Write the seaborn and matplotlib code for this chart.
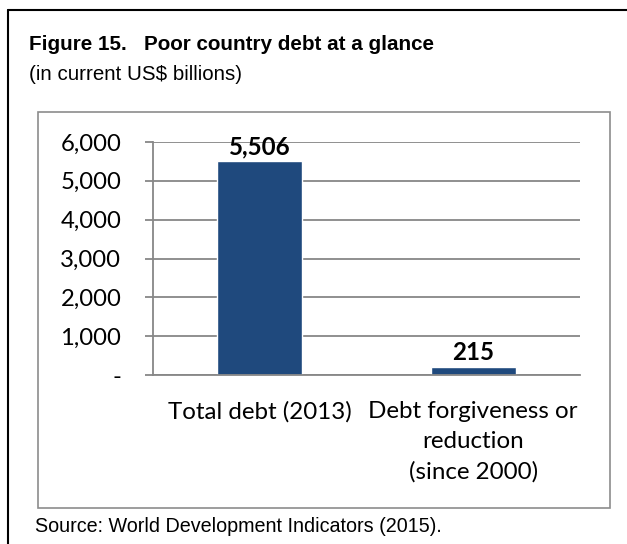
import matplotlib
matplotlib.use("Agg")
from matplotlib import pyplot as plt
from matplotlib.lines import Line2D
from matplotlib.patches import Rectangle
import seaborn as sns

categories = ["Total debt (2013)", "Debt forgiveness or\nreduction\n(since 2000)"]
values = [5506, 215]
value_labels = ["5,506", "215"]
y_ticks = [0, 1000, 2000, 3000, 4000, 5000, 6000]
y_tick_labels = ["-", "1,000", "2,000", "3,000", "4,000", "5,000", "6,000"]

title = "Figure 15.   Poor country debt at a glance"
subtitle = "(in current US$ billions)"
source = "Source: World Development Indicators (2015)."

sns.set_style("white")
plt.rcParams["font.family"] = ["Lato", "DejaVu Sans"]
plt.rcParams["text.color"] = "black"
plt.rcParams["xtick.labelcolor"] = "black"
plt.rcParams["ytick.labelcolor"] = "black"
narrow = "Liberation Sans"

W, H = 627, 544
fig = plt.figure(figsize=(W / 100, H / 100), dpi=100)


def fx(px):
    return px / W


def fy(py):
    return 1 - py / H


bar_color = "#1F497D"
grid_color = "#878787"

ax = fig.add_axes([fx(153), fy(375), fx(580) - fx(153), fy(142) - fy(375)])
sns.barplot(x=categories, y=values, color=bar_color, saturation=1, width=0.4, ax=ax)
ax.set_xlim(-0.5, 1.5)
ax.set_ylim(0, 6000)

ax.set_yticks(y_ticks)
ax.set_yticklabels(y_tick_labels)
ax.yaxis.grid(True, color=grid_color, lw=1.3)
ax.set_axisbelow(True)

for s in ["top", "right"]:
    ax.spines[s].set_visible(False)
for s in ["left", "bottom"]:
    ax.spines[s].set_color(grid_color)
    ax.spines[s].set_linewidth(1.3)

ax.set_xticks([-0.5, 0.5, 1.5], minor=True)
ax.tick_params(axis="x", which="major", length=0, pad=19, labelsize=17.4, labelcolor="black")
ax.tick_params(axis="x", which="minor", length=5.8, width=1.3, color=grid_color, direction="out")
ax.tick_params(axis="y", length=5.8, width=1.3, color=grid_color, direction="out", pad=17,
               labelsize=17.2, left=True, labelcolor="black")
for lab in ax.get_xticklabels():
    lab.set_linespacing(1.52)
ax.set_xlabel("")
ax.set_ylabel("")

ax.bar_label(ax.containers[0], labels=value_labels, padding=2, fontsize=17.4,
             fontweight="bold", color="black")

# frames
fig.add_artist(Line2D([fx(8), 1], [fy(10), fy(10)], transform=fig.transFigure, color="black", lw=1.5))
fig.add_artist(Line2D([fx(8), fx(8)], [fy(10), 0], transform=fig.transFigure, color="black", lw=1.5))
fig.add_artist(Rectangle((fx(38), fy(508)), fx(610) - fx(38), fy(112) - fy(508),
                         transform=fig.transFigure, fill=False, edgecolor="#8c8c8c", lw=1.2))

fig.text(fx(29), fy(50), title, family=narrow, fontweight="bold", fontsize=14.9, va="baseline")
fig.text(fx(29), fy(80), subtitle, family=narrow, fontsize=14.8, va="baseline")
fig.text(fx(35), fy(532), source, family=narrow, fontsize=14.2, va="baseline")

fig.savefig("out.png", dpi=100)
